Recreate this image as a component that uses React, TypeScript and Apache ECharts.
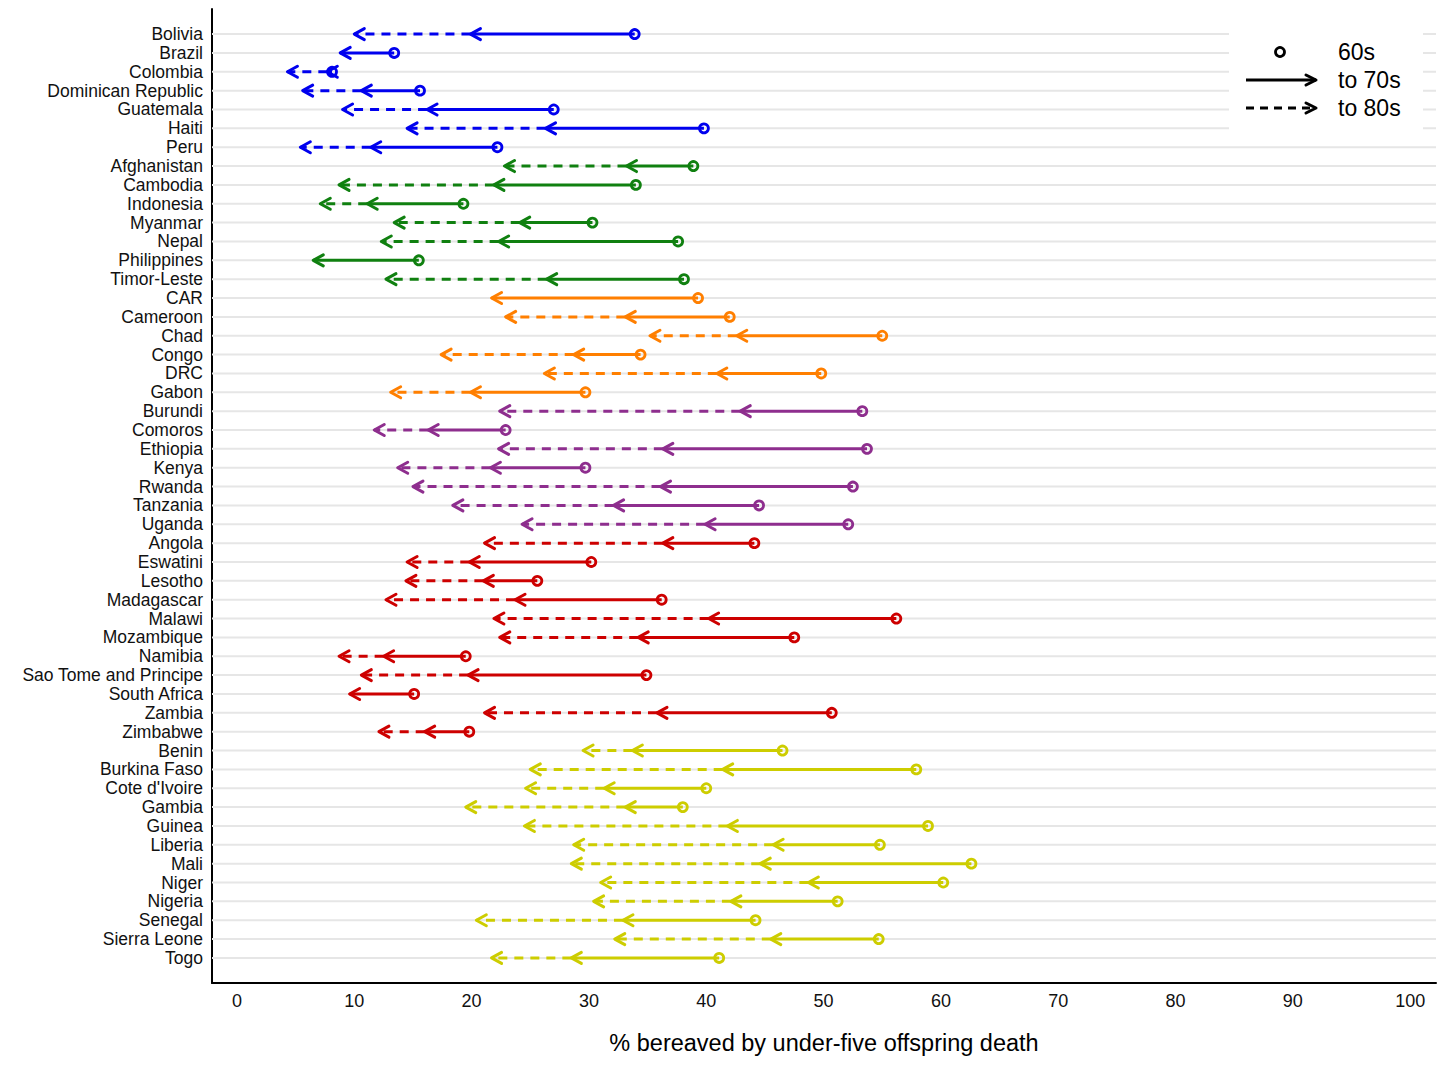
import React, { useEffect, useRef } from 'react';
import * as echarts from 'echarts';

const countries = [
  'Bolivia', 'Brazil', 'Colombia', 'Dominican Republic', 'Guatemala', 'Haiti', 'Peru',
  'Afghanistan', 'Cambodia', 'Indonesia', 'Myanmar', 'Nepal', 'Philippines', 'Timor-Leste',
  'CAR', 'Cameroon', 'Chad', 'Congo', 'DRC', 'Gabon',
  'Burundi', 'Comoros', 'Ethiopia', 'Kenya', 'Rwanda', 'Tanzania', 'Uganda',
  'Angola', 'Eswatini', 'Lesotho', 'Madagascar', 'Malawi', 'Mozambique', 'Namibia',
  'Sao Tome and Principe', 'South Africa', 'Zambia', 'Zimbabwe',
  'Benin', 'Burkina Faso', "Cote d'Ivoire", 'Gambia', 'Guinea', 'Liberia', 'Mali',
  'Niger', 'Nigeria', 'Senegal', 'Sierra Leone', 'Togo'
];

// region group of each country (index into groupColors)
const groupOf = [
  0, 0, 0, 0, 0, 0, 0,
  1, 1, 1, 1, 1, 1, 1,
  2, 2, 2, 2, 2, 2,
  3, 3, 3, 3, 3, 3, 3,
  4, 4, 4, 4, 4, 4, 4, 4, 4, 4, 4,
  5, 5, 5, 5, 5, 5, 5, 5, 5, 5, 5, 5
];

// % bereaved, 1960s
const v60 = [
  33.9, 13.4, 8.1, 15.6, 27.0, 39.8, 22.2,
  38.9, 34.0, 19.3, 30.3, 37.6, 15.5, 38.1,
  39.3, 42.0, 55.0, 34.4, 49.8, 29.7,
  53.3, 22.9, 53.7, 29.7, 52.5, 44.5, 52.1,
  44.1, 30.2, 25.6, 36.2, 56.2, 47.5, 19.5, 34.9, 15.1, 50.7, 19.8,
  46.5, 57.9, 40.0, 38.0, 58.9, 54.8, 62.6, 60.2, 51.2, 44.2, 54.7, 41.1
];

// % bereaved, 1970s
const v70 = [
  19.9, 8.8, 7.7, 10.6, 16.2, 26.3, 11.4,
  33.2, 21.9, 11.1, 24.1, 22.3, 6.5, 26.4,
  21.7, 33.1, 42.6, 28.7, 40.9, 19.9,
  42.9, 16.3, 36.3, 21.6, 36.1, 32.1, 39.9,
  36.3, 19.8, 21.0, 23.7, 40.2, 34.2, 12.5, 19.7, 9.6, 35.8, 16.0,
  33.7, 41.4, 31.3, 33.1, 41.8, 45.7, 44.6, 48.7, 42.1, 32.9, 45.5, 28.5
];

// % bereaved, 1980s (null = no survey)
const v80: (number | null)[] = [
  10.0, null, 4.3, 5.6, 9.0, 14.5, 5.4,
  22.8, 8.7, 7.1, 13.4, 12.3, null, 12.7,
  null, 22.9, 35.2, 17.4, 26.2, 13.1,
  22.4, 11.7, 22.3, 13.7, 15.0, 18.4, 24.3,
  21.1, 14.5, 14.4, 12.7, 21.9, 22.4, 8.7, 10.6, null, 21.1, 12.1,
  29.5, 25.0, 24.6, 19.5, 24.5, 28.7, 28.5, 31.0, 30.4, 20.4, 32.2, 21.7
];

const xTicks = [0, 10, 20, 30, 40, 50, 60, 70, 80, 90, 100];
const legendLabels = ['60s', 'to 70s', 'to 80s'];

const groupColors = ['#0000EE', '#108010', '#FF7F00', '#8E2E8E', '#CD0000', '#CDCD00'];
const FONT = '"Liberation Sans", Arial, Helvetica, sans-serif';

const arrowHead = (tx: number, ty: number, dir: number, color: string, len = 10, hw = 5.5, z?: number) => ({
  type: 'polyline',
  z,
  shape: { points: [[tx - dir * len, ty - hw], [tx, ty], [tx - dir * len, ty + hw]] },
  style: { stroke: color, lineWidth: 3, fill: 'none', lineJoin: 'round', lineCap: 'round' },
  z2: 5
});

const App: React.FC = () => {
  const chartRef = useRef<HTMLDivElement>(null);

  useEffect(() => {
    if (!chartRef.current) return;
    const chart = echarts.init(chartRef.current, null, { renderer: 'svg' });

    const data = countries.map((c, i) => [
      v60[i], i, v70[i], v80[i] == null ? v70[i] : v80[i], groupOf[i]
    ]);

    const renderItem = (params: any, api: any) => {
      const i = params.dataIndex;
      const row = api.value(1);
      const color = groupColors[groupOf[i]];
      const cs = params.coordSys;
      const p60 = api.coord([v60[i], row]);
      const p70 = api.coord([v70[i], row]);
      const y = p60[1];
      const children: any[] = [];
      // grid line
      children.push({
        type: 'line',
        shape: { x1: cs.x, y1: y, x2: cs.x + cs.width, y2: y },
        style: { stroke: '#e6e6e6', lineWidth: 2 },
        z2: 0
      });
      const v = v80[i];
      if (v != null) {
        const p80 = api.coord([v, row]);
        children.push({
          type: 'line',
          shape: { x1: p70[0], y1: y, x2: p80[0], y2: y },
          style: { stroke: color, lineWidth: 3, lineDash: [9, 7] },
          z2: 2
        });
        children.push(arrowHead(p80[0], y, -1, color));
      }
      children.push({
        type: 'line',
        shape: { x1: p60[0], y1: y, x2: p70[0], y2: y },
        style: { stroke: color, lineWidth: 3 },
        z2: 3
      });
      children.push(arrowHead(p70[0], y, -1, color));
      children.push({
        type: 'circle',
        shape: { cx: p60[0], cy: y, r: 4.5 },
        style: { stroke: color, lineWidth: 2.8, fill: 'none' },
        z2: 6
      });
      return { type: 'group', children };
    };

    const legendText = (t: string, y: number) => ({
      type: 'text',
      z: 101,
      x: 1338,
      y,
      style: {
        text: t,
        fill: '#000',
        fontSize: 23,
        fontFamily: FONT,
        verticalAlign: 'middle',
        align: 'left'
      }
    });

    const option = {
      animation: false,
      backgroundColor: '#fff',
      grid: { left: 212, right: 20, top: 9, bottom: 93, containLabel: false },
      xAxis: {
        type: 'value',
        min: -2.13,
        max: 102.2,
        name: '% bereaved by under-five offspring death',
        nameLocation: 'middle',
        nameGap: 48,
        nameTextStyle: { fontSize: 23.5, color: '#000', fontFamily: FONT },
        axisLine: { show: true, onZero: false, lineStyle: { color: '#000', width: 2 } },
        axisTick: { show: false },
        splitLine: { show: false },
        axisLabel: {
          customValues: xTicks,
          fontSize: 18,
          color: '#111',
          fontFamily: FONT,
          margin: 9
        }
      },
      yAxis: {
        type: 'value',
        inverse: true,
        min: -1.33,
        max: 50.33,
        axisLine: { show: true, onZero: false, lineStyle: { color: '#000', width: 2 } },
        axisTick: { show: false },
        splitLine: { show: false },
        axisLabel: {
          customValues: countries.map((c, i) => i),
          formatter: (val: number) => countries[Math.round(val)] ?? '',
          fontSize: 17.5,
          color: '#111',
          fontFamily: FONT,
          margin: 9
        }
      },
      series: [
        {
          type: 'custom',
          renderItem,
          encode: { x: [0, 2, 3], y: 1 },
          data,
          clip: false
        }
      ],
      graphic: [
        {
          type: 'rect',
          z: 100,
          shape: { x: 1229, y: 18, width: 194, height: 119 },
          style: { fill: '#fff' }
        },
        {
          type: 'circle',
          z: 101,
          shape: { cx: 1280, cy: 52, r: 4.5 },
          style: { stroke: '#000', lineWidth: 2.8, fill: 'none' }
        },
        {
          type: 'line',
          z: 101,
          shape: { x1: 1246, y1: 80, x2: 1316, y2: 80 },
          style: { stroke: '#000', lineWidth: 3 }
        },
        arrowHead(1316, 80, 1, '#000', 10, 5, 101),
        {
          type: 'line',
          z: 101,
          shape: { x1: 1246, y1: 108, x2: 1316, y2: 108 },
          style: { stroke: '#000', lineWidth: 3, lineDash: [8, 6] }
        },
        arrowHead(1316, 108, 1, '#000', 10, 5, 101),
        legendText(legendLabels[0], 52),
        legendText(legendLabels[1], 80),
        legendText(legendLabels[2], 108)
      ]
    };

    chart.setOption(option as any);

    const handleResize = () => chart.resize();
    window.addEventListener('resize', handleResize);
    return () => {
      window.removeEventListener('resize', handleResize);
      chart.dispose();
    };
  }, []);

  return (
    <div
      ref={chartRef}
      style={{ position: 'absolute', left: 0, top: 0, width: 1456, height: 1076, background: '#fff' }}
    />
  );
};

export default App;
